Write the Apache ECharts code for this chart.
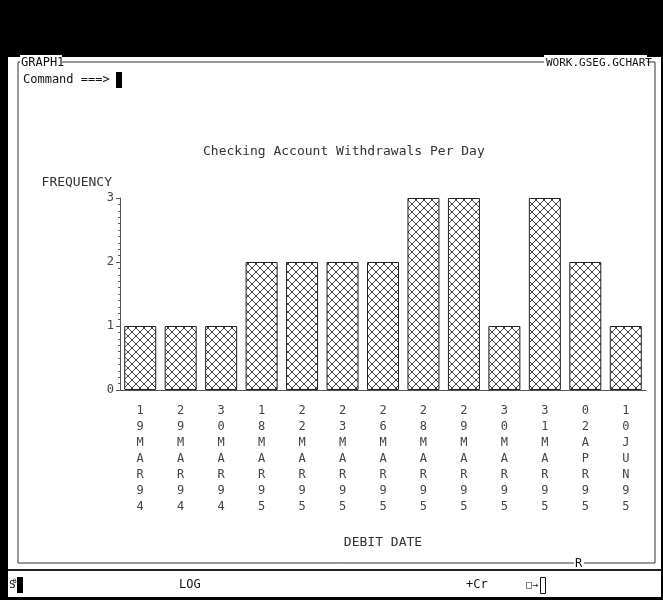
<!DOCTYPE html>
<html>
<head>
<meta charset="utf-8">
<script src="https://cdn.jsdelivr.net/npm/echarts@6/dist/echarts.min.js"></script>
<style>
html,body{margin:0;padding:0;background:#fff;}
#c{width:663px;height:600px;}
</style>
</head>
<body>
<div id="c"></div>
<script>
const categories = ['19MAR94','29MAR94','30MAR94','18MAR95','22MAR95','23MAR95','26MAR95','28MAR95','29MAR95','30MAR95','31MAR95','02APR95','10JUN95'];
const frequency = [1,1,1,2,2,2,2,3,3,1,3,2,1];
const yTicks = [0,1,2,3];

const MONO = '"DejaVu Sans Mono", "Liberation Mono", monospace';

// crosshatch pattern
const pc = document.createElement('canvas');
pc.width = 8; pc.height = 8;
const px = pc.getContext('2d');
px.fillStyle = '#fff';
px.fillRect(0,0,8,8);
px.strokeStyle = '#444';
px.lineWidth = 1;
px.beginPath();
px.moveTo(0,0); px.lineTo(8,8);
px.moveTo(8,0); px.lineTo(0,8);
px.stroke();

const chart = echarts.init(document.getElementById('c'), null, {renderer:'canvas'});

const gtext = (x, y, text, opts) => Object.assign({
  type:'text', x:x, y:y,
  style: Object.assign({text:text, font:'12px ' + MONO, fill:'#111', textVerticalAlign:'middle'}, (opts||{}))
});

const option = {
  backgroundColor:'#fff',
  animation:false,
  title:{
    text:'Checking Account Withdrawals Per Day',
    left:198, top:140,
    textStyle:{fontFamily:MONO, fontSize:13, fontWeight:'normal', color:'#333'}
  },
  grid:{left:120, right:17, top:198, bottom:210},
  xAxis:{
    type:'category',
    data:categories,
    name:'DEBIT DATE',
    nameLocation:'middle',
    nameGap:146,
    nameTextStyle:{fontFamily:MONO, fontSize:13, color:'#333', verticalAlign:'top'},
    axisLine:{lineStyle:{color:'#555', width:1}},
    axisTick:{show:false},
    axisLabel:{
      interval:0,
      margin:13,
      fontFamily:MONO, fontSize:12, color:'#444', lineHeight:16,
      formatter:(v)=>v.split('').join('\n')
    }
  },
  yAxis:{
    type:'value',
    min:0, max:3, interval:1,
    name:'FREQUENCY',
    nameLocation:'end',
    nameGap:9,
    nameTextStyle:{fontFamily:MONO, fontSize:13, color:'#333', align:'right', padding:[0,8,0,0]},
    axisLine:{show:true, lineStyle:{color:'#555', width:1}},
    axisTick:{show:true, length:4, lineStyle:{color:'#555'}},
    minorTick:{show:true, splitNumber:10, length:2, lineStyle:{color:'#666'}},
    splitLine:{show:false},
    axisLabel:{fontFamily:MONO, fontSize:12, color:'#444', margin:6,
      formatter:(v)=> yTicks.indexOf(v) >= 0 ? String(v) : ''}
  },
  series:[{
    type:'bar',
    data:frequency,
    barWidth:32,
    itemStyle:{
      color:{image:pc, repeat:'repeat'},
      borderColor:'#222',
      borderWidth:1
    }
  }],
  graphic:[
    // black bands
    {type:'rect', shape:{x:0,y:0,width:663,height:57}, style:{fill:'#000'}, z:100},
    {type:'rect', shape:{x:0,y:0,width:8,height:600}, style:{fill:'#000'}, z:100},
    {type:'rect', shape:{x:661,y:0,width:2,height:600}, style:{fill:'#000'}, z:100},
    {type:'rect', shape:{x:0,y:597,width:663,height:3}, style:{fill:'#000'}, z:100},
    // frame
    {type:'polyline', shape:{points:[[18,66],[18,563],[655,563],[655,62],[18,62],[18,66]]}, style:{stroke:'#333', fill:null, lineWidth:1}, z:100},
    {type:'rect', shape:{x:20,y:55,width:42,height:14}, style:{fill:'#fff'}, z:101},
    gtext(21, 63, 'GRAPH1', {font:'12px ' + MONO, fill:'#111'}),
    {type:'rect', shape:{x:544,y:55,width:103,height:14}, style:{fill:'#fff'}, z:101},
    gtext(546, 63, 'WORK.GSEG.GCHART', {font:'11px ' + MONO, fill:'#111'}),
    gtext(23, 80, 'Command ===>', {font:'12px ' + MONO, fill:'#111'}),
    {type:'rect', shape:{x:116,y:72,width:6,height:16}, style:{fill:'#000'}, z:101},
    {type:'rect', shape:{x:574,y:556,width:10,height:12}, style:{fill:'#fff'}, z:101},
    gtext(575, 564, 'R', {font:'12px ' + MONO, fill:'#111'}),
    // status bar
    {type:'rect', shape:{x:8,y:569,width:653,height:2}, style:{fill:'#222'}, z:100},
    gtext(9, 585, 'S', {font:'11px ' + MONO, fill:'#111'}),
    gtext(13, 581, 'B', {font:'6px ' + MONO, fill:'#111'}),
    {type:'rect', shape:{x:17,y:577,width:6,height:16}, style:{fill:'#000'}, z:101},
    gtext(179, 585, 'LOG', {font:'12px ' + MONO, fill:'#111'}),
    gtext(466, 585, '+Cr', {font:'12px ' + MONO, fill:'#111'}),
    gtext(526, 585, '\u25a1\u2192', {font:'10px ' + MONO, fill:'#111'}),
    {type:'rect', shape:{x:540.5,y:577.5,width:5,height:16}, style:{fill:'#fff', stroke:'#111', lineWidth:1}, z:101}
  ].map(g => { if (g.z === undefined) g.z = 102; return g; })
};

chart.setOption(option);
</script>
</body>
</html>
